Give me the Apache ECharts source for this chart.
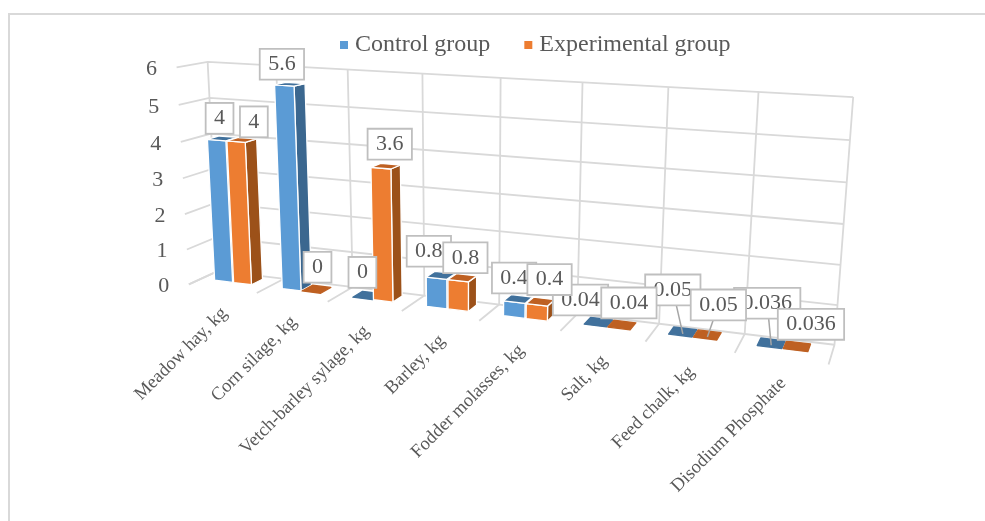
<!DOCTYPE html>
<html><head><meta charset="utf-8">
<style>html,body{margin:0;padding:0;background:#fff}#c{width:985px;height:521px}</style>
<script src="https://cdn.jsdelivr.net/npm/echarts@6/dist/echarts.min.js"></script>
</head><body><div id="c"></div>
<script>
var categories = ['Meadow hay, kg','Corn silage, kg','Vetch-barley sylage, kg','Barley, kg','Fodder molasses, kg','Salt, kg','Feed chalk, kg','Disodium Phosphate'];
var controlValues = [4,5.6,0,0.8,0.4,0.04,0.05,0.036];
var experimentalValues = [4,0,3.6,0.8,0.4,0.04,0.05,0.036];
var controlLabels = ['4','5.6','0','0.8','0.4','0.04','0.05','0.036'];
var experimentalLabels = ['4','0','3.6','0.8','0.4','0.04','0.05','0.036'];
var valueTicks = [0,1,2,3,4,5,6];

// Layout only: label-box offsets from each bar top, [dx, dy, hasLeader]
var controlNudge = [[-3,-20],[-8,-20],[-5,-23],[-12,-24],[-4,-21],[-18,-22],[-10,-42,1],[-4,-40,1]];
var experimentalNudge = [[12,-18],[1,-22],[4,-22],[3,-20],[9,-22],[7,-22],[11,-30,1],[14,-22]];

// Layout only: calibration of the 3D view, [category, value, depth, screenX, screenY]
var viewAnchors = [
 [0,6,0,174,69],[0,3,0,182,178],[0,0,0,190,284],[1,0,0,258,292],[2,0,0,328,302],[3,0,0,402,310],[4,0,0,480,320],
 [5,0,0,560,331],[6,0,0,646,342],[7,0,0,735,353],[8,0,0,828,366],
 [0,6,1,209,62],[0,0,1,216,271],[2,6,1,349,70],[3,6,1,423,74],[4,6,1,501,78],[5,6,1,582,82],[6,6,1,669,87],[7,6,1,758,92],
 [8,6,1,853,96],[8,5,1,850,139],[8,4,1,847,182],[8,3,1,843,223],[8,0,1,834,347]
];
function fitView(pts){
  var n=11,A=[],b=[],i,j,k;
  for(i=0;i<n;i++){A.push(new Array(n).fill(0));b.push(0);}
  function add(r,t){for(var a=0;a<n;a++){b[a]+=r[a]*t;for(var c=0;c<n;c++)A[a][c]+=r[a]*r[c];}}
  pts.forEach(function(q){var u=q[0],v=q[1],w=q[2],x=q[3],y=q[4];
    add([u,v,w,1,0,0,0,0,-x*u,-x*v,-x*w],x);
    add([0,0,0,0,u,v,w,1,-y*u,-y*v,-y*w],y);
  });
  for(i=0;i<n;i++){
    var p=i;for(j=i+1;j<n;j++)if(Math.abs(A[j][i])>Math.abs(A[p][i]))p=j;
    var t=A[i];A[i]=A[p];A[p]=t;t=b[i];b[i]=b[p];b[p]=t;
    for(j=i+1;j<n;j++){var m=A[j][i]/A[i][i];for(k=i;k<n;k++)A[j][k]-=m*A[i][k];b[j]-=m*b[i];}
  }
  var s=new Array(n);
  for(i=n-1;i>=0;i--){var d=b[i];for(k=i+1;k<n;k++)d-=A[i][k]*s[k];s[i]=d/A[i][i];}
  return s;
}
var M = fitView(viewAnchors);
function view(u,v,w){
  var d=M[8]*u+M[9]*v+M[10]*w+1;
  return [(M[0]*u+M[1]*v+M[2]*w+M[3])/d,(M[4]*u+M[5]*v+M[6]*w+M[7])/d];
}
// Read category/value through the hidden axes' scales, then lift into the 3D view.
function lift(api,i,f,val,w){
  var c=api.coord([i,val]),bw=api.size([1,0])[0],H=api.getHeight();
  return view(c[0]/bw-0.5+f,(H-c[1])/H*6,w);
}
var DEPTH0=0.42,DEPTH1=0.82;
var BAR_SPAN=[[0.2,0.47],[0.485,0.75]];
var FONT='"Liberation Serif","Times New Roman",serif',TXT='#595959',GRID='#D9D9D9';
var FACE=[{front:'#5B9BD5',side:'#3B678F',top:'#41719C'},{front:'#ED7D31',side:'#9C5119',top:'#BE6022'}];

function barRender(k){return function(params,api){
  var i=api.value(0),v=api.value(1),s=BAR_SPAN[k],c=FACE[k],kids=[];
  function poly(pts,fill,stroke){kids.push({type:'polygon',shape:{points:pts},style:{fill:fill,stroke:stroke,lineWidth:1.3,lineJoin:'round'}});}
  var a0=lift(api,i,s[0],0,DEPTH0),b0=lift(api,i,s[1],0,DEPTH0),b1=lift(api,i,s[1],0,DEPTH1),
      a2=lift(api,i,s[0],v,DEPTH0),b2=lift(api,i,s[1],v,DEPTH0),b3=lift(api,i,s[1],v,DEPTH1),a3=lift(api,i,s[0],v,DEPTH1);
  if(v>0.1){poly([b0,b1,b3,b2],c.side,'#fff');poly([a0,b0,b2,a2],c.front,'#fff');}
  poly([a2,b2,b3,a3],c.top,v>0.1?'#fff':c.top);
  return {type:'group',children:kids};
};}
function labelRender(k,texts,nudge){return function(params,api){
  var i=api.value(0),v=api.value(1),s=BAR_SPAN[k],n=nudge[i],kids=[];
  var t=lift(api,i,(s[0]+s[1])/2,v,(DEPTH0+DEPTH1)/2),x=t[0]+n[0],y=t[1]+n[1];
  if(n[2])kids.push({type:'line',shape:{x1:t[0],y1:t[1]+2,x2:x,y2:y},style:{stroke:'#A6A6A6',lineWidth:1.5}});
  kids.push({type:'text',x:x,y:y,style:{text:texts[i],font:'22px '+FONT,fill:TXT,align:'center',verticalAlign:'middle',
    backgroundColor:'#fff',borderColor:'#BFBFBF',borderWidth:1.8,padding:[2,7.5,2,7.5],lineHeight:25}});
  return {type:'group',children:kids};
};}
function levelRender(params,api){
  var v=api.value(1),a=lift(api,0,0,v,0),b=lift(api,0,0,v,1),c=lift(api,7,1,v,1);
  return {type:'group',children:[
    {type:'polyline',shape:{points:[a,b,c]},style:{fill:null,stroke:GRID,lineWidth:1.8}},
    {type:'text',x:a[0]-25,y:a[1]+2,style:{text:String(v),font:'22px '+FONT,fill:TXT,align:'center',verticalAlign:'middle'}}
  ]};
}
function boundaryRender(params,api){
  var i=api.value(0),kids=[];
  [[i,0]].concat(i===7?[[7,1]]:[]).forEach(function(e){
    var p=lift(api,e[0],e[1],0,0),q=lift(api,e[0],e[1],0,1),r=lift(api,e[0],e[1],6,1);
    kids.push({type:'polyline',shape:{points:[p,q,r]},style:{fill:null,stroke:GRID,lineWidth:1.8}});
  });
  return {type:'group',children:kids};
}
function categoryRender(params,api){
  var i=api.value(0),p=lift(api,i,0.5,0,0);
  return {type:'text',x:p[0]+2,y:p[1]+22,rotation:Math.PI/4,style:{text:categories[i],font:'18.5px '+FONT,fill:TXT,align:'right',verticalAlign:'middle'}};
}
function pairs(vals){return vals.map(function(v,i){return [i,v];});}
var chart=echarts.init(document.getElementById('c'),null,{renderer:'canvas'});
var common={type:'custom',silent:true,animation:false,clip:false};
chart.setOption({
  animation:false,
  backgroundColor:'#fff',
  grid:{left:0,right:0,top:0,bottom:0},
  xAxis:{type:'category',data:categories,show:false},
  yAxis:{type:'value',min:0,max:6,interval:1,show:false},
  legend:{data:['Control group','Experimental group'],left:335,top:28,icon:'rect',itemWidth:8,itemHeight:8,itemGap:34,
    selectedMode:false,textStyle:{fontFamily:FONT,fontSize:24,color:TXT,padding:[0,0,0,2]}},
  graphic:[{type:'polyline',silent:true,shape:{points:[[9,521],[9,14],[985,14]]},style:{fill:null,stroke:'#D9D9D9',lineWidth:2}}],
  series:[
    Object.assign({},common,{name:'value levels',z:1,data:valueTicks.map(function(v){return [0,v];}),renderItem:levelRender}),
    Object.assign({},common,{name:'category bounds',z:1,data:categories.map(function(c,i){return [i,0];}),renderItem:boundaryRender}),
    Object.assign({},common,{name:'category names',z:1,data:categories.map(function(c,i){return [i,0];}),renderItem:categoryRender}),
    Object.assign({},common,{name:'Control group',z:2,itemStyle:{color:'#5B9BD5'},data:pairs(controlValues),renderItem:barRender(0)}),
    Object.assign({},common,{name:'Experimental group',z:3,itemStyle:{color:'#ED7D31'},data:pairs(experimentalValues),renderItem:barRender(1)}),
    Object.assign({},common,{name:'Control labels',z:5,data:pairs(controlValues),renderItem:labelRender(0,controlLabels,controlNudge)}),
    Object.assign({},common,{name:'Experimental labels',z:6,data:pairs(experimentalValues),renderItem:labelRender(1,experimentalLabels,experimentalNudge)})
  ]
});
</script></body></html>
